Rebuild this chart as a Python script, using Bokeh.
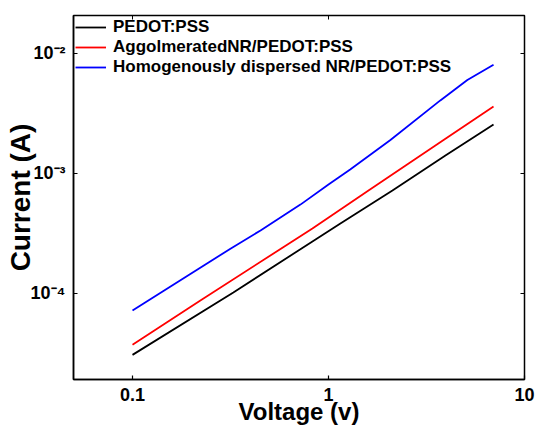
from bokeh.plotting import figure
from bokeh.models import LogAxis, FixedTicker, Legend, LegendItem, Range1d
from bokeh.embed import file_html
from bokeh.resources import INLINE

# ---- data ----
v_pedot = [0.1, 0.327, 1.15, 2.12, 3.95, 6.95]
i_pedot = [3.08e-5, 1.02e-4, 3.83e-4, 7.22e-4, 1.41e-3, 2.56e-3]

v_agg = [0.1, 0.222, 0.828, 1.60, 3.95, 6.95]
i_agg = [3.74e-5, 8.74e-5, 3.48e-4, 7.22e-4, 1.95e-3, 3.62e-3]

v_homo = [0.1, 0.316, 0.45, 0.719, 1.0, 1.29, 2.07, 3.72, 5.11, 6.95]
i_homo = [7.22e-5, 2.36e-4, 3.35e-4, 5.5e-4, 8.1e-4, 1.08e-3, 1.9e-3, 4.06e-3, 6.0e-3, 8.05e-3]

series_names = ["PEDOT:PSS", "AggolmeratedNR/PEDOT:PSS", "Homogenously dispersed NR/PEDOT:PSS"]
series_colors = ["#000000", "#ff0000", "#0000ff"]

x_ticks = [0.1, 1, 10]
x_tick_labels = ["0.1", "1", "10"]
y_ticks = [1e-4, 1e-3, 1e-2]
y_tick_labels = ["10\u207b\u2074", "10\u207b\u00b3", "10\u207b\u00b2"]

FONT = "Liberation Sans"

p = figure(width=545, height=431, x_axis_type="log", y_axis_type="log",
           x_range=Range1d(0.05, 10), y_range=Range1d(1.92e-5, 0.0207),
           output_backend="svg", toolbar_location=None,
           min_border_left=73, min_border_right=21, min_border_top=15, min_border_bottom=52)
p.grid.visible = False
p.background_fill_color = "white"
p.border_fill_color = "white"
p.outline_line_color = "black"
p.outline_line_width = 1.5

renderers = []
for xs, ys, c in [(v_pedot, i_pedot, series_colors[0]),
                  (v_agg, i_agg, series_colors[1]),
                  (v_homo, i_homo, series_colors[2])]:
    r = p.line(xs, ys, line_color=c, line_width=1.8)
    renderers.append(r)

# main axes
xa = p.xaxis[0]
ya = p.yaxis[0]
xa.ticker = FixedTicker(ticks=x_ticks)
ya.ticker = FixedTicker(ticks=y_ticks)
xa.major_label_overrides = {t: l for t, l in zip(x_ticks, x_tick_labels)}
ya.major_label_overrides = {t: l for t, l in zip(y_ticks, y_tick_labels)}
for ax in (xa, ya):
    ax.minor_tick_line_color = None
    ax.major_tick_in = 4
    ax.major_tick_out = 0
    ax.major_tick_line_color = "black"
    ax.major_tick_line_width = 1.2
    ax.axis_line_color = "black"
    ax.axis_line_width = 1.5
    ax.major_label_text_font = FONT
    ax.major_label_text_font_style = "bold"
    ax.major_label_text_font_size = "18px"
    ax.major_label_text_color = "black"
    ax.axis_label_text_font = FONT
    ax.axis_label_text_font_style = "bold"
    ax.axis_label_text_color = "black"

xa.axis_label = "Voltage (v)"
xa.axis_label_text_font_size = "24px"
xa.major_label_standoff = 8
xa.axis_label_standoff = -6

ya.axis_label = "Current (A)"
ya.axis_label_text_font_size = "28px"
ya.major_label_standoff = 8
ya.axis_label_standoff = -8
ya.major_label_orientation = "horizontal"

# mirrored tick axes (top, right)
top = LogAxis(ticker=FixedTicker(ticks=x_ticks))
right = LogAxis(ticker=FixedTicker(ticks=y_ticks))
for ax in (top, right):
    ax.major_label_text_font_size = "1px"
    ax.major_label_text_alpha = 0
    ax.major_label_standoff = 0
    ax.minor_tick_line_color = None
    ax.major_tick_in = 4
    ax.major_tick_out = 0
    ax.major_tick_line_color = "black"
    ax.axis_line_color = None
p.add_layout(top, "above")
p.add_layout(right, "right")

legend = Legend(items=[LegendItem(label=n, renderers=[r]) for n, r in zip(series_names, renderers)],
                location="top_left", margin=0, padding=2, spacing=0,
                glyph_width=31, glyph_height=18, label_height=18, label_standoff=7,
                label_text_font=FONT, label_text_font_style="bold", label_text_font_size="17px",
                label_text_color="black",
                border_line_alpha=0, background_fill_alpha=0)
p.add_layout(legend)

open("out.html", "w").write(file_html(p, INLINE))
